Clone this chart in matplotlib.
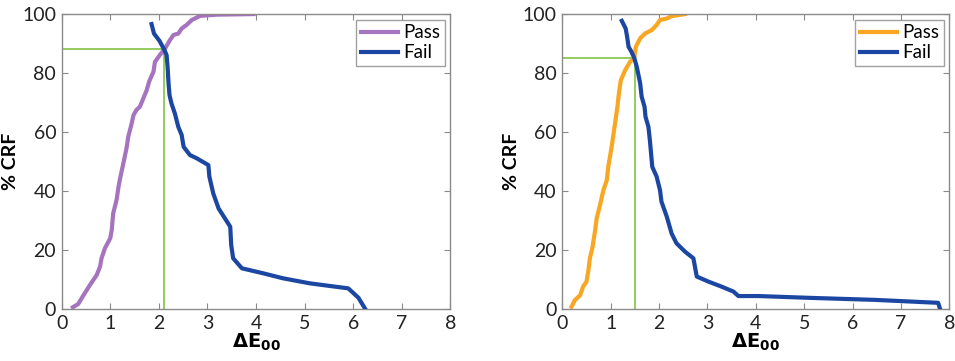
import matplotlib.pyplot as plt

plt.rcParams['font.family'] = ['Lato', 'DejaVu Sans']

# left panel: cumulative relative frequency of dE00 for passing / failing samples
pass_a_x = [0.23, 0.34, 0.45, 0.58, 0.72, 0.79, 0.82, 0.89, 1.00, 1.03, 1.06, 1.13, 1.17, 1.21,
            1.27, 1.34, 1.37, 1.44, 1.48, 1.54, 1.61, 1.68, 1.75, 1.80, 1.89, 1.92, 2.02, 2.13,
            2.23, 2.30, 2.40, 2.47, 2.57, 2.68, 2.85, 3.19, 3.95]
pass_a_y = [0.6, 1.7, 4.7, 8.1, 11.5, 14.4, 17.2, 20.6, 24.0, 26.8, 32.4, 37.0, 41.5, 44.9,
            49.4, 55.0, 58.4, 62.9, 65.8, 67.5, 68.6, 71.4, 74.2, 77.1, 80.5, 83.8, 86.1, 88.4,
            91.2, 92.9, 93.4, 95.1, 96.3, 98.0, 99.4, 99.8, 100.0]
fail_a_x = [1.85, 1.90, 2.01, 2.11, 2.16, 2.18, 2.20, 2.22, 2.26, 2.33, 2.40, 2.47, 2.51, 2.64,
            2.78, 3.02, 3.04, 3.12, 3.23, 3.47, 3.49, 3.53, 3.71, 4.15, 4.56, 5.11, 5.90, 6.11, 6.25]
fail_a_y = [96.6, 93.4, 91.0, 88.0, 86.1, 82.1, 76.5, 72.5, 69.7, 66.3, 61.8, 59.0, 55.0, 52.2,
            51.1, 48.8, 44.9, 39.2, 34.1, 27.9, 21.7, 17.2, 13.8, 12.1, 10.4, 8.7, 7.0, 3.8, 0.0]
cross_a = (2.11, 88.0)

# right panel
pass_b_x = [0.19, 0.26, 0.37, 0.43, 0.50, 0.54, 0.57, 0.62, 0.68, 0.71, 0.78, 0.85, 0.92, 0.95,
            1.02, 1.09, 1.14, 1.17, 1.21, 1.30, 1.40, 1.49, 1.52, 1.61, 1.71, 1.85, 1.95, 2.02,
            2.16, 2.26, 2.54]
pass_b_y = [0.8, 3.0, 4.7, 7.6, 9.3, 13.2, 17.2, 20.6, 26.8, 30.7, 35.3, 40.3, 43.7, 48.2,
            55.0, 62.9, 68.6, 73.1, 77.6, 81.0, 83.8, 85.3, 88.9, 91.8, 93.4, 94.6, 96.3, 98.0,
            98.5, 99.3, 100.0]
fail_b_x = [1.23, 1.31, 1.34, 1.37, 1.43, 1.49, 1.54, 1.61, 1.64, 1.70, 1.72, 1.78, 1.81, 1.86,
            1.95, 2.02, 2.05, 2.16, 2.26, 2.36, 2.54, 2.71, 2.78, 3.02, 3.29, 3.54, 3.64, 4.05,
            5.09, 6.46, 7.77, 7.81]
fail_b_y = [97.7, 95.1, 92.3, 88.9, 87.2, 85.0, 82.1, 76.5, 72.0, 68.6, 65.2, 61.8, 57.3, 48.2,
            44.9, 40.3, 36.4, 31.3, 25.6, 22.3, 19.4, 17.2, 11.0, 9.3, 7.6, 5.9, 4.4, 4.4,
            3.8, 3.1, 2.1, 0.0]
cross_b = (1.50, 85.0)

fail_color = '#1b47a2'
green = '#8cc752'
frame = '#8a8a8a'

fig = plt.figure(figsize=(9.55, 3.61), dpi=100)
ax1 = fig.add_axes([0.0646, 0.144, 0.4069, 0.817])
ax2 = fig.add_axes([0.5888, 0.144, 0.4052, 0.817])

panels = [
    (ax1, pass_a_x, pass_a_y, '#a673bf', fail_a_x, fail_a_y, cross_a),
    (ax2, pass_b_x, pass_b_y, '#f9a623', fail_b_x, fail_b_y, cross_b),
]

for ax, px, py, pcol, fx, fy, (cx, cy) in panels:
    ax.plot([cx, cx], [0, cy], color=green, lw=1.3, zorder=1)
    ax.plot([0, cx], [cy, cy], color=green, lw=1.3, zorder=1)
    ax.plot(px, py, color=pcol, lw=3, label='Pass', zorder=2)
    ax.plot(fx, fy, color=fail_color, lw=3, label='Fail', zorder=3)
    ax.set_xlim(0, 8)
    ax.set_ylim(0, 100)
    ax.set_xticks(range(0, 9))
    ax.set_yticks(range(0, 101, 20))
    ax.tick_params(direction='in', top=True, right=True, length=4, color=frame,
                   labelsize=14, labelcolor='#222222')
    ax.tick_params(axis='x', pad=4)
    ax.tick_params(axis='y', pad=4)
    for s in ax.spines.values():
        s.set_color(frame)
        s.set_linewidth(1)
    ax.set_xlabel(r'$\mathbf{\Delta E_{00}}$', fontsize=14, labelpad=0)
    ax.set_ylabel('% CRF', fontsize=14, fontweight='bold', labelpad=2)
    leg = ax.legend(loc='upper right', fontsize=13.5, frameon=True, fancybox=False,
                    handlelength=2.0, handletextpad=0.25, borderpad=0.25, labelspacing=0.15,
                    borderaxespad=0.3)
    leg.get_frame().set_edgecolor(frame)
    leg.get_frame().set_linewidth(1)

fig.savefig('out.png', dpi=100)
